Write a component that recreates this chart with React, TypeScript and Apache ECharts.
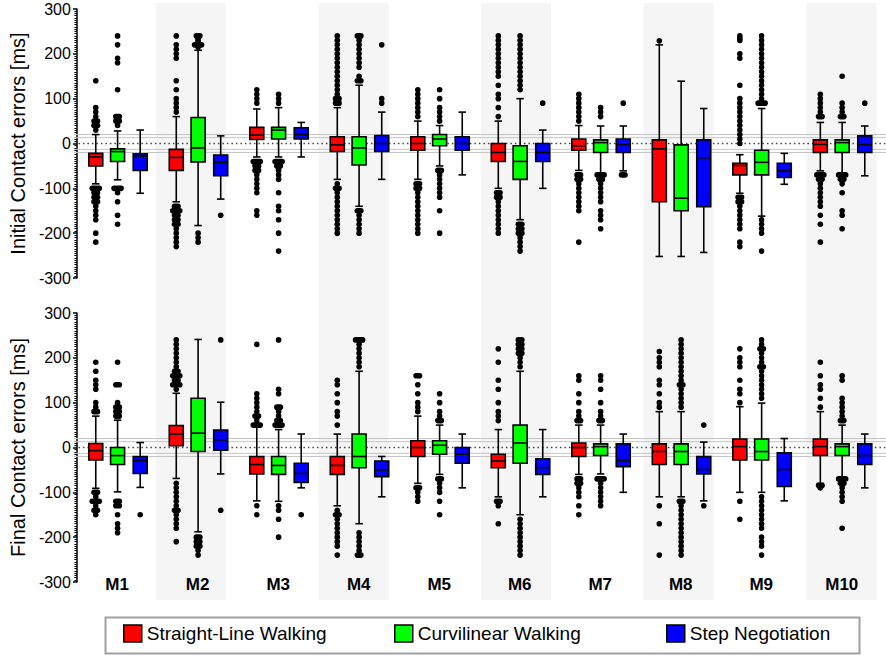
import React, { useEffect, useRef } from "react";
import * as echarts from "echarts";

const groups = ["M1", "M2", "M3", "M4", "M5", "M6", "M7", "M8", "M9", "M10"];
const behaviors = ["Straight-Line Walking", "Curvilinear Walking", "Step Negotiation"];
const behaviorColors = ["#ff0000", "#00ff00", "#0000ff"];
const shadedGroups = [1, 3, 5, 7, 9];
const refLinesSolid = [20, 13, -13, -20];
const refLinesDotted = [0];
const yTicks = { min: -300, max: 300, interval: 100 };

// box stats per group: [min whisker, Q1, median, Q3, max whisker] (ms)
const icStraight = [
  [-90, -50, -30, -22, 20], [-130, -60, -31, -13, 60], [-30, 9, 19, 36, 77], [-80, -18, -3, 15, 80],
  [-80, -15, 0, 15, 50], [-100, -40, -20, 0, 50], [-60, -15, -5, 10, 40], [-252, -130, -12, 8, 220],
  [-111, -70, -49, -44, -25], [-61, -20, -2, 8, 47],
];
const icCurvilinear = [
  [-81, -40, -18, -12, 28], [-183, -41, -10, 58, 208], [-30, 10, 30, 36, 80], [-140, -48, -10, 15, 130],
  [-50, -5, 10, 20, 40], [-170, -80, -40, -5, 100], [-66, -20, 2, 8, 39], [-252, -150, -122, -3, 139],
  [-162, -70, -42, -15, 78], [-66, -20, 2, 8, 47],
];
const icStep = [
  [-111, -60, -28, -23, 30], [-124, -72, -42, -26, 17], [-30, 10, 20, 35, 47], [-80, -18, 0, 18, 70],
  [-70, -15, 0, 15, 70], [-100, -40, -20, 0, 30], [-61, -20, -2, 10, 39], [-243, -141, -32, 8, 78],
  [-91, -76, -61, -44, -22], [-72, -20, -2, 17, 39],
];
const fcStraight = [
  [-91, -28, -7, 9, 70], [-69, 4, 30, 49, 121], [-119, -59, -38, -20, 46], [-130, -60, -40, -20, 30],
  [-80, -20, 0, 15, 70], [-110, -45, -30, -15, 40], [-60, -20, 0, 10, 50], [-110, -38, -9, 8, 80],
  [-100, -28, 2, 19, 91], [-80, -18, 2, 19, 80],
];
const fcCurvilinear = [
  [-99, -38, -18, 0, 61], [-188, -9, 32, 110, 241], [-120, -60, -40, -20, 40], [-170, -45, -20, 30, 170],
  [-60, -15, 5, 15, 50], [-150, -35, 10, 50, 170], [-59, -18, 2, 8, 50], [-110, -38, -9, 8, 80],
  [-100, -28, -9, 19, 99], [-69, -18, 2, 8, 50],
];
const fcStep = [
  [-89, -58, -29, -20, 11], [-59, -6, 17, 39, 101], [-90, -78, -58, -35, 30], [-110, -65, -50, -30, -20],
  [-90, -35, -15, 0, 30], [-110, -60, -45, -25, 40], [-100, -43, -29, 8, 30], [-119, -59, -49, -20, 12],
  [-119, -87, -49, -12, 20], [-90, -38, -18, 8, 30],
];

// outliers per group (repeated values = several points side by side)
const icStraightOut = [
  [30, 40, 40, 50, 50, 60, 70, 80, 140, -100, -100, -100, -110, -110, -120, -120, -130, -130, -140, -150, -160, -170, -200, -220],
  [70, 80, 90, 100, 120, 140, 190, 200, 210, 220, 240, -140, -140, -150, -150, -150, -160, -160, -170, -170, -180, -180, -190, -200, -210, -220, -230],
  [90, 100, 110, 120, -40, -40, -40, -50, -50, -60, -60, -70, -80, -90, -100, -110, -150, -160],
  [90, 90, 100, 100, 110, 120, 130, 140, 150, 160, 170, 180, 190, 200, 210, 220, 230, 240, -90, -100, -100, -110, -120, -130, -140, -150, -160, -170, -180, -190, -200],
  [60, 70, 80, 90, 100, 110, 120, -90, -90, -100, -100, -110, -120, -130, -140, -150, -160, -170, -180, -190, -200],
  [60, 80, 100, 110, 130, 150, 160, 170, 180, 190, 200, 210, 220, 230, 240, -110, -110, -120, -120, -130, -140, -150, -160, -170, -180, -190, -200],
  [50, 60, 70, 80, 90, 100, 110, -70, -70, -80, -80, -90, -100, -110, -120, -130, -140, -150, -220],
  [229],
  [0, 10, 20, 30, 40, 50, 60, 70, 80, 90, 100, 130, 190, 200, 230, 235, 240, -120, -120, -130, -130, -140, -150, -160, -170, -180, -190, -220, -230],
  [60, 60, 70, 80, 90, 100, 110, -70, -70, -70, -80, -80, -90, -100, -110, -120, -130, -140, -160, -180, -220],
];
const icCurvilinearOut = [
  [40, 50, 50, 60, 60, 120, 180, 190, 220, 240, -100, -100, -100, -110, -130, -160, -180],
  [215, 220, 220, 220, 225, 230, 235, 240, 240, -200, -210, -220],
  [90, 100, 110, -40, -40, -40, -50, -50, -60, -70, -80, -110, -140, -150, -170, -200, -240],
  [140, 140, 150, 170, 180, 190, 200, 210, 220, 230, 240, 240, -150, -150, -160, -170, -180, -190, -200],
  [50, 60, 70, 80, 100, 120, -60, -60, -70, -80, -90, -100, -110, -120, -150, -200],
  [120, 130, 140, 150, 160, 170, 180, 190, 200, 210, 220, 230, 240, -180, -180, -190, -190, -200, -200, -210, -220, -230, -240],
  [60, 70, 80, -70, -70, -70, -80, -80, -90, -100, -110, -120, -130, -150, -160, -170, -190],
  [],
  [90, 90, 90, 100, 110, 120, 130, 140, 150, 160, 170, 180, 190, 200, 210, 220, 230, 240, -170, -180, -190, -200, -240],
  [60, 60, 70, 80, 90, 150, -70, -70, -70, -80, -80, -90, -110, -150, -160, -190],
];
const icStepOut = [[], [-160], [], [90, 100, 220], [], [90], [90, -70, -70], [], [], [90]];

const fcStraightOut = [
  [80, 80, 90, 100, 130, 140, 150, 170, 190, -100, -100, -110, -120, -120, -120, -130, -140, -140, -150],
  [130, 140, 140, 140, 150, 150, 160, 160, 160, 170, 170, 180, 190, 200, 210, 220, 230, 240, -80, -90, -100, -110, -120, -130, -140, -140, -150, -160, -170, -180, -210],
  [50, 50, 50, 60, 70, 70, 80, 90, 100, 110, 120, 230, -130, -150],
  [50, 70, 80, 100, 120, 140, 150, -140, -150, -150, -160, -170, -180, -190, -200, -210, -220, -240],
  [80, 90, 100, 120, 140, 160, 160, -90, -90, -100, -110, -120],
  [60, 70, 80, 100, 130, 150, 190, 220, -120, -120, -130, -170],
  [60, 60, 70, 80, 100, 120, 150, 160, -70, -70, -80, -80, -90, -100, -110, -130, -150],
  [90, 100, 120, 140, 150, 180, 190, 200, 214, -130, -170, -240],
  [100, 120, 130, 150, 180, 190, 200, 220, -120, -160],
  [90, 110, 130, 140, 160, 190, -85, -85, -90],
];
const fcCurvilinearOut = [
  [70, 70, 80, 80, 90, 90, 100, 140, 140, 190, -120, -120, -130, -130, -150, -170, -180, -190],
  [-200, -200, -210, -210, -220, -220, -230, -240],
  [50, 50, 50, 60, 60, 70, 80, 90, 90, 120, 130, 240, -130, -140, -160, -200],
  [180, 190, 200, 210, 220, 230, 240, 240, 240, -190, -200, -210, -220, -230, -240, -240],
  [60, 60, 70, 80, 100, 120, -70, -70, -80, -90, -100, -120, -150],
  [180, 190, 200, 210, 210, 220, 220, 230, 230, 240, 240, -160, -170, -180, -190, -200, -210, -220, -230, -240],
  [60, 60, 70, 80, 100, 130, 150, 160, -70, -70, -70, -80, -90, -100, -110, -120, -130],
  [90, 100, 110, 120, 130, 140, 140, 150, 160, 170, 180, 190, 200, 210, 220, 230, 240, -120, -120, -130, -140, -150, -160, -170, -180, -190, -200, -210, -220, -230, -240],
  [110, 120, 130, 140, 150, 160, 170, 180, 180, 190, 200, 210, 220, 220, 230, 240, -110, -120, -130, -140, -150, -160, -170, -180, -200, -210, -220, -240],
  [60, 60, 70, 80, 90, 100, 110, 150, 160, -70, -70, -70, -80, -80, -90, -100, -110, -120, -180],
];
const fcStepOut = [[-150], [240, -140], [-150], [], [], [], [], [50, -130], [], []];

const FONT = "'Liberation Sans', Arial, sans-serif";
const boxOffsets = [-0.266, 0.005, 0.286];

function boxData(stats: number[][]) {
  return stats.map((s, g) => [g, ...s]);
}
function outlierData(lists: number[][]) {
  const out: number[][] = [];
  lists.forEach((vals, g) => {
    const counts = new Map<number, number>();
    vals.forEach((v) => counts.set(v, (counts.get(v) || 0) + 1));
    counts.forEach((c, v) => out.push([g, v, c]));
  });
  return out;
}

function boxRender(s: number) {
  return (params: any, api: any) => {
    const g = api.value(0);
    const band = api.size([1, 0])[0];
    const cx = api.coord([g, 0])[0] + boxOffsets[s] * band;
    const y = (i: number) => api.coord([g, api.value(i)])[1];
    const yMin = y(1), yQ1 = y(2), yMed = y(3), yQ3 = y(4), yMax = y(5);
    const hw = 7, cw = 3.75;
    const ls = { stroke: "#000", lineWidth: 1.6 };
    return {
      type: "group",
      children: [
        { type: "line", shape: { x1: cx, y1: yQ1, x2: cx, y2: yMin }, style: ls },
        { type: "line", shape: { x1: cx, y1: yQ3, x2: cx, y2: yMax }, style: ls },
        { type: "line", shape: { x1: cx - cw, y1: yMin, x2: cx + cw, y2: yMin }, style: ls },
        { type: "line", shape: { x1: cx - cw, y1: yMax, x2: cx + cw, y2: yMax }, style: ls },
        {
          type: "rect",
          shape: { x: cx - hw, y: yQ3, width: 2 * hw, height: yQ1 - yQ3 },
          style: { fill: behaviorColors[s], stroke: "#000", lineWidth: 1.6 },
        },
        { type: "line", shape: { x1: cx - hw, y1: yMed, x2: cx + hw, y2: yMed }, style: ls },
      ],
    };
  };
}

function outlierRender(s: number) {
  return (params: any, api: any) => {
    const g = api.value(0);
    const band = api.size([1, 0])[0];
    const p = api.coord([g, api.value(1)]);
    const cx = p[0] + boxOffsets[s] * band;
    const n = api.value(2);
    const h = 5.6;
    const w = h + (n - 1) * 3.5;
    return {
      type: "rect",
      shape: { x: cx - w / 2, y: p[1] - h / 2, width: w, height: h, r: h / 2 },
      style: { fill: "#000" },
    };
  };
}

function refRender(dotted: boolean) {
  return (params: any, api: any) => {
    const cs = params.coordSys;
    const yy = api.coord([0, api.value(1)])[1];
    return {
      type: "line",
      shape: { x1: cs.x - 3, y1: yy, x2: cs.x + cs.width + 4, y2: yy },
      style: dotted
        ? { stroke: "#444", lineWidth: 1.5, lineDash: [1.5, 3] }
        : { stroke: "#c4c4c4", lineWidth: 1 },
    };
  };
}

function yAxisFor(gridIndex: number, name: string) {
  return {
    type: "value",
    gridIndex,
    min: yTicks.min,
    max: yTicks.max,
    interval: yTicks.interval,
    name,
    nameLocation: "middle",
    nameGap: 48,
    nameRotate: 90,
    nameTextStyle: { fontSize: 20, color: "#000", fontFamily: FONT },
    axisLine: { show: true, lineStyle: { color: "#000", width: 1.5 } },
    axisTick: { show: true, length: 4, lineStyle: { color: "#000", width: 1.5 } },
    minorTick: { show: true, splitNumber: 20, length: 2.5, lineStyle: { color: "#000", width: 1 } },
    axisLabel: { fontSize: 16, color: "#000", fontFamily: FONT, margin: 6 },
    splitLine: { show: false },
  };
}

export default function App() {
  const ref = useRef<HTMLDivElement>(null);
  useEffect(() => {
    if (!ref.current) return;
    const chart = echarts.init(ref.current, undefined, { renderer: "svg" });
    const panels = [
      { grid: 1, stats: [icStraight, icCurvilinear, icStep], outs: [icStraightOut, icCurvilinearOut, icStepOut] },
      { grid: 2, stats: [fcStraight, fcCurvilinear, fcStep], outs: [fcStraightOut, fcCurvilinearOut, fcStepOut] },
    ];
    const series: any[] = [
      {
        type: "custom",
        name: "shade",
        xAxisIndex: 0,
        yAxisIndex: 0,
        z: 0,
        silent: true,
        data: shadedGroups.map((g) => [g]),
        encode: { x: 0 },
        renderItem: (params: any, api: any) => {
          const g = api.value(0);
          const p0 = api.coord([g + 0.07, 1]);
          const p1 = api.coord([g + 0.93, 0]);
          return {
            type: "rect",
            shape: { x: p0[0], y: p0[1], width: p1[0] - p0[0], height: p1[1] - p0[1] },
            style: { fill: "#f5f5f5" },
          };
        },
      },
    ];
    panels.forEach((pn) => {
      series.push({
        type: "custom",
        name: "ref-solid",
        xAxisIndex: pn.grid,
        yAxisIndex: pn.grid,
        z: 1,
        silent: true,
        data: refLinesSolid.map((v) => [0, v]),
        encode: { x: 0, y: 1 },
        renderItem: refRender(false),
      });
      series.push({
        type: "custom",
        name: "ref-dotted",
        xAxisIndex: pn.grid,
        yAxisIndex: pn.grid,
        z: 1,
        silent: true,
        data: refLinesDotted.map((v) => [0, v]),
        encode: { x: 0, y: 1 },
        renderItem: refRender(true),
      });
      pn.stats.forEach((st, s) => {
        series.push({
          type: "custom",
          name: behaviors[s],
          xAxisIndex: pn.grid,
          yAxisIndex: pn.grid,
          z: 3,
          itemStyle: { color: behaviorColors[s] },
          data: boxData(st),
          encode: { x: 0, y: [1, 2, 3, 4, 5] },
          renderItem: boxRender(s),
        });
        series.push({
          type: "custom",
          name: "outliers",
          xAxisIndex: pn.grid,
          yAxisIndex: pn.grid,
          z: 2,
          silent: true,
          data: outlierData(pn.outs[s]),
          encode: { x: 0, y: 1 },
          renderItem: outlierRender(s),
        });
      });
    });

    const legendLefts = [123, 394, 666];
    const option: any = {
      animation: false,
      backgroundColor: "#fff",
      textStyle: { fontFamily: FONT },
      grid: [
        { left: 69, right: 4, top: 3, bottom: 55 },
        { left: 69, right: 4, top: 9, height: 269 },
        { left: 69, right: 4, top: 313, height: 269 },
      ],
      xAxis: [
        { type: "value", gridIndex: 0, min: 0, max: 10, show: false },
        { type: "category", gridIndex: 1, data: groups, show: false },
        {
          type: "category",
          gridIndex: 2,
          data: groups,
          axisLine: { show: false },
          axisTick: { show: false },
          axisLabel: { fontSize: 17, fontWeight: "bold", color: "#000", fontFamily: FONT, margin: -6 },
        },
      ],
      yAxis: [
        { type: "value", gridIndex: 0, min: 0, max: 1, show: false },
        yAxisFor(1, "Initial Contact errors [ms]"),
        yAxisFor(2, "Final Contact errors [ms]"),
      ],
      legend: behaviors.map((b, i) => ({
        data: [b],
        left: legendLefts[i],
        top: 624,
        padding: 0,
        icon: "rect",
        itemWidth: 18,
        itemHeight: 17,
        selectedMode: false,
        itemStyle: { borderColor: "#000", borderWidth: 1.5, color: behaviorColors[i] },
        textStyle: { fontSize: 19, color: "#000", fontFamily: FONT },
      })),
      graphic: [
        {
          type: "rect",
          left: 103,
          top: 615,
          shape: { x: 0, y: 0, width: 754, height: 36 },
          style: { fill: "none", stroke: "#a0a0a0", lineWidth: 2 },
        },
      ],
      series,
    };
    chart.setOption(option);
    return () => chart.dispose();
  }, []);
  return (
    <div
      ref={ref}
      style={{ position: "absolute", left: 0, top: 0, width: 886, height: 655 }}
    />
  );
}
